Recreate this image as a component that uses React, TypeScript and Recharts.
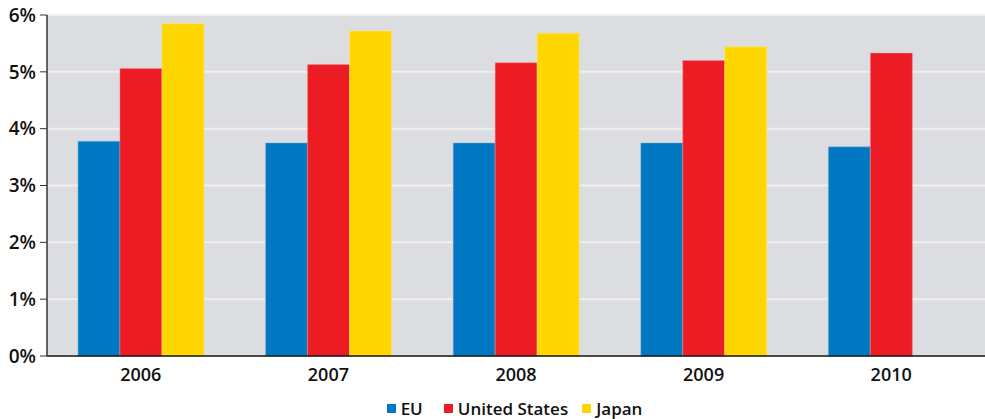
import React from 'react';
import { BarChart, Bar, XAxis, YAxis, CartesianGrid, Legend } from 'recharts';

const years = ['2006', '2007', '2008', '2009', '2010'];
const euValues = [3.78, 3.75, 3.75, 3.75, 3.68];
const usValues = [5.06, 5.13, 5.16, 5.2, 5.33];
const japanValues: (number | null)[] = [5.85, 5.72, 5.68, 5.44, null];
const yTicks = [0, 1, 2, 3, 4, 5, 6];

const seriesNames = ['EU', 'United States', 'Japan'];
const seriesColors = ['#0079c2', '#ed1c24', '#ffd700'];

const data = years.map((year, i) => ({
  year,
  eu: euValues[i],
  us: usValues[i],
  japan: japanValues[i],
}));

const font = '"Open Sans", sans-serif';
const legendGaps = [21, 14, 0];

function LegendRow() {
  return (
    <div
      style={{
        display: 'flex',
        justifyContent: 'center',
        alignItems: 'center',
        height: 27,
        paddingTop: 6,
        paddingLeft: 44,
        boxSizing: 'border-box',
        fontFamily: font,
        fontWeight: 600,
        fontSize: 17,
        color: '#111',
      }}
    >
      {seriesNames.map((name, i) => (
        <span key={name} style={{ display: 'flex', alignItems: 'center', marginRight: legendGaps[i] }}>
          <span style={{ width: 9, height: 9, background: seriesColors[i], marginRight: 5, display: 'inline-block' }} />
          {name}
        </span>
      ))}
    </div>
  );
}

export default function App() {
  return (
    <div style={{ position: 'absolute', left: 0, top: 0, background: '#fff', fontFamily: font }}>
      <BarChart
        width={985}
        height={419}
        data={data}
        margin={{ top: 15, right: 0, left: 0, bottom: 0 }}
        barGap={0}
        barCategoryGap="16.5%"
      >
        <CartesianGrid vertical={false} fill="#dcdde0" stroke="#efefef" strokeWidth={2} />
        <XAxis
          dataKey="year"
          axisLine={{ stroke: '#111', strokeWidth: 1.5 }}
          tickLine={false}
          tick={{ fill: '#111', fontSize: 18, fontFamily: font, fontWeight: 600 }}
          tickMargin={6}
          height={36}
        />
        <YAxis
          domain={[0, 6]}
          ticks={yTicks}
          interval={0}
          tickFormatter={(v) => `${v}%`}
          axisLine={{ stroke: '#333', strokeWidth: 1.5 }}
          tickLine={{ stroke: '#333' }}
          tickSize={7}
          tickMargin={4}
          tick={{ fill: '#111', fontSize: 19, fontFamily: font, fontWeight: 600 }}
          width={47}
        />
        <Legend verticalAlign="bottom" align="center" height={27} content={() => <LegendRow />} />
        <Bar dataKey="eu" name="EU" fill={seriesColors[0]} stroke="#8fb8d8" strokeWidth={0.5} isAnimationActive={false} />
        <Bar dataKey="us" name="United States" fill={seriesColors[1]} stroke="#f08a8e" strokeWidth={0.5} isAnimationActive={false} />
        <Bar dataKey="japan" name="Japan" fill={seriesColors[2]} stroke="#ffe680" strokeWidth={0.5} isAnimationActive={false} />
      </BarChart>
    </div>
  );
}
